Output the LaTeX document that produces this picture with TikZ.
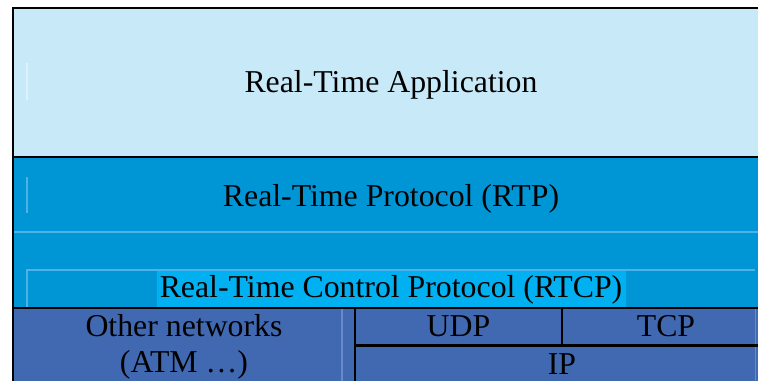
\documentclass[tikz,border=0pt]{standalone}
\usepackage{fontspec}
\setmainfont{Liberation Serif}
\definecolor{appbg}{HTML}{C7E9F8}
\definecolor{rtpbg}{HTML}{0096D6}
\definecolor{rtcpbg}{HTML}{00B0F0}
\definecolor{netbg}{HTML}{4169B2}
\definecolor{faintmid}{HTML}{4DB3E4}
\definecolor{fainttop}{HTML}{DDF2FB}
\definecolor{faintbot}{HTML}{6A8AC6}
\tikzset{
  lbl/.style={anchor=base, inner sep=0pt, font=\fontsize{23.85}{28}\selectfont, text=black},
  border/.style={line width=2pt, draw=black},
  thin border/.style={line width=1.6pt, draw=black},
  faint/.style={line width=0.8pt}
}
\begin{document}
\begin{tikzpicture}[x=0.75pt,y=-0.75pt]
\useasboundingbox (0,0) rectangle (758,381);
% fills
\fill[appbg] (13,8) rectangle (775,157);
\fill[rtpbg] (13,157) rectangle (775,308);
\fill[netbg] (13,308) rectangle (775,390);
\fill[rtcpbg] (157,271) rectangle (626,308);
% faint artefact lines
\draw[faint, fainttop] (27,63) -- (27,100);
\draw[faint, faintmid] (27,177) -- (27,213);
\draw[faint, faintmid] (13,232) -- (775,232);
\draw[faint, faintmid] (27,307) -- (27,270) -- (755,270);
\draw[faint, faintbot] (342,309) -- (342,381);
\draw[faint, faintbot] (755.5,309) -- (755.5,381);
% borders
\draw[border] (13,390) -- (13,8) -- (775,8);
\draw[border] (13,157) -- (775,157);
\draw[border] (13,308) -- (775,308);
\draw[thin border] (355,308) -- (355,390);
\draw[thin border] (355,345.5) -- (775,345.5);
\draw[thin border] (562,308) -- (562,345.5);
% labels
\node[lbl] (app) at (391,93) {Real-Time Application};
\node[lbl] (rtp) at (391,206.5) {Real-Time Protocol (RTP)};
\node[lbl] (rtcp) at (391,298) {Real-Time Control Protocol (RTCP)};
\node[lbl] (other) at (184,337) {Other networks};
\node[lbl] (atm) at (184,373) {(ATM \ldots)};
\node[lbl] (udp) at (458.5,337) {UDP};
\node[lbl] (tcp) at (666,337) {TCP};
\node[lbl] (ip) at (562,375) {IP};
\end{tikzpicture}
\end{document}
